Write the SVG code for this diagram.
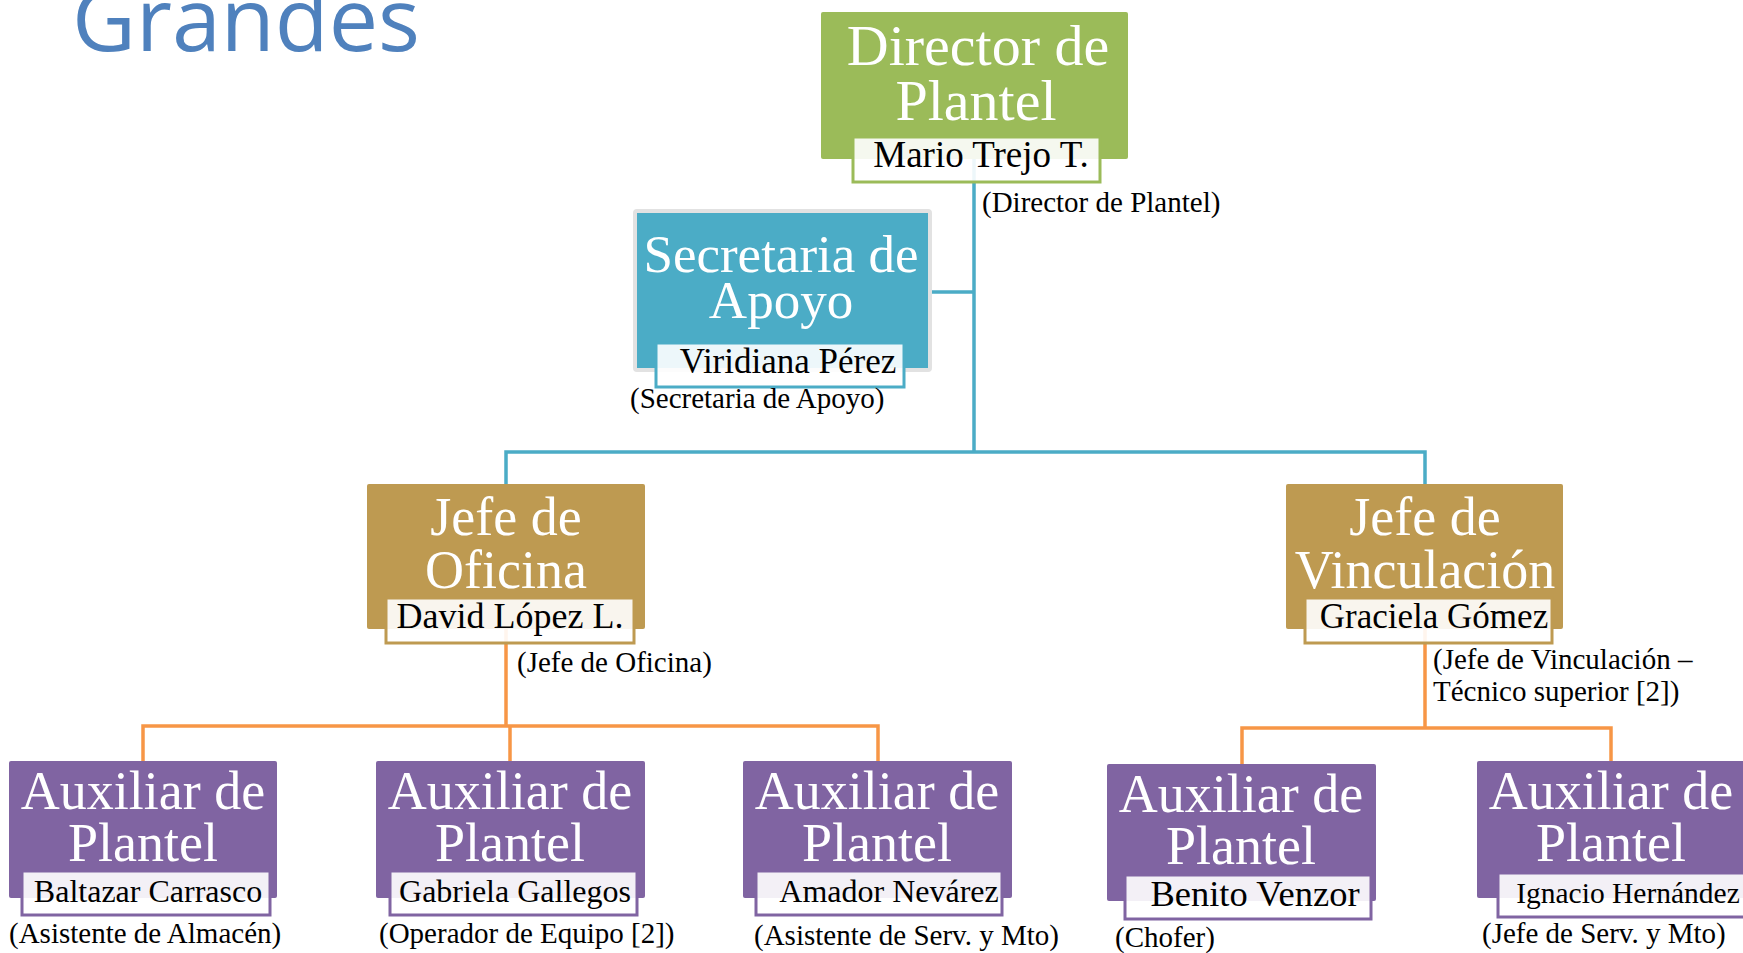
<svg xmlns="http://www.w3.org/2000/svg" width="1743" height="953" viewBox="0 0 1743 953">
<style>
.title{font-family:"Liberation Serif","DejaVu Serif",serif;fill:#ffffff;text-anchor:middle}
.name{font-family:"Liberation Serif","DejaVu Serif",serif;fill:#000000;text-anchor:middle}
.cap{font-family:"Liberation Serif","DejaVu Serif",serif;fill:#000000;font-size:29px}
.nb{fill:#ffffff;fill-opacity:0.9;stroke-width:3}
.blue{stroke:#4bacc6;stroke-width:3.5;fill:none}
.orange{stroke:#f79646;stroke-width:3.5;fill:none}
</style>
<rect width="1743" height="953" fill="#ffffff"/>
<text x="72" y="51" font-family="'Open Sans','Noto Sans',sans-serif" font-size="88" fill="#4f81bd">Grandes</text>
<g id="connectors">
<path class="blue" d="M974 159V452M932 292H974M506 484V452H1425V484"/>
<path class="orange" d="M506 629V726M143 761V726H878V761M510 726V761"/>
<path class="orange" d="M1425 629V728M1242 764V728H1611V761"/>
</g>
<g id="director">
<rect x="821" y="12" width="307" height="147" rx="2" fill="#9bbb59"/>
<text class="title" x="978" y="65" font-size="58">Director de</text>
<text class="title" x="976" y="120" font-size="58">Plantel</text>
<rect class="nb" x="853" y="137" width="247" height="45" stroke="#9bbb59"/>
<text class="name" x="981" y="167" font-size="37">Mario Trejo T.</text>
<text class="cap" x="982" y="212">(Director de Plantel)</text>
</g>
<g id="secretaria">
<rect x="635" y="211" width="295" height="159" rx="2" fill="#4bacc6" stroke="#e2e2e2" stroke-width="4"/>
<text class="title" x="781" y="272" font-size="53">Secretaria de</text>
<text class="title" x="781" y="318" font-size="53">Apoyo</text>
<rect class="nb" x="656" y="343" width="248" height="44" stroke="#4bacc6"/>
<text class="name" x="788" y="373" font-size="35">Viridiana Pérez</text>
<text class="cap" x="630" y="408" font-size="27.5">(Secretaria de Apoyo)</text>
</g>
<g id="jefe-oficina">
<rect x="367" y="484" width="278" height="145" rx="2" fill="#be9a51"/>
<text class="title" x="506" y="535" font-size="54">Jefe de</text>
<text class="title" x="506" y="588" font-size="54">Oficina</text>
<rect class="nb" x="386" y="598" width="248" height="45" stroke="#be9a51"/>
<text class="name" x="510" y="628" font-size="36">David López L.</text>
<text class="cap" x="517" y="672">(Jefe de Oficina)</text>
</g>
<g id="jefe-vinculacion">
<rect x="1286" y="484" width="277" height="145" rx="2" fill="#be9a51"/>
<text class="title" x="1425" y="535" font-size="54">Jefe de</text>
<text class="title" x="1425" y="588" font-size="54">Vinculación</text>
<rect class="nb" x="1305" y="598" width="247" height="45" stroke="#be9a51"/>
<text class="name" x="1434" y="628" font-size="35">Graciela Gómez</text>
<text class="cap" x="1433" y="669" font-size="27.5">(Jefe de Vinculación –</text>
<text class="cap" x="1433" y="701" font-size="27.5">Técnico superior [2])</text>
</g>
<g id="aux-1">
<rect x="9" y="761" width="268" height="137" rx="2" fill="#8064a2"/>
<text class="title" x="143" y="809" font-size="54">Auxiliar de</text>
<text class="title" x="143" y="861" font-size="54">Plantel</text>
<rect class="nb" x="22" y="871" width="248" height="44" stroke="#8064a2"/>
<text class="name" x="148" y="902" font-size="32">Baltazar Carrasco</text>
<text class="cap" x="9" y="943">(Asistente de Almacén)</text>
</g>
<g id="aux-2">
<rect x="376" y="761" width="269" height="137" rx="2" fill="#8064a2"/>
<text class="title" x="510" y="809" font-size="54">Auxiliar de</text>
<text class="title" x="510" y="861" font-size="54">Plantel</text>
<rect class="nb" x="390" y="871" width="247" height="44" stroke="#8064a2"/>
<text class="name" x="515" y="902" font-size="32">Gabriela Gallegos</text>
<text class="cap" x="379" y="943">(Operador de Equipo [2])</text>
</g>
<g id="aux-3">
<rect x="743" y="761" width="269" height="137" rx="2" fill="#8064a2"/>
<text class="title" x="877" y="809" font-size="54">Auxiliar de</text>
<text class="title" x="877" y="861" font-size="54">Plantel</text>
<rect class="nb" x="756" y="871" width="246" height="44" stroke="#8064a2"/>
<text class="name" x="889" y="902" font-size="32">Amador Nevárez</text>
<text class="cap" x="754" y="945">(Asistente de Serv. y Mto)</text>
</g>
<g id="aux-4">
<rect x="1107" y="764" width="269" height="137" rx="2" fill="#8064a2"/>
<text class="title" x="1241" y="812" font-size="54">Auxiliar de</text>
<text class="title" x="1241" y="864" font-size="54">Plantel</text>
<rect class="nb" x="1125" y="875" width="246" height="44" stroke="#8064a2"/>
<text class="name" x="1255" y="906" font-size="36.5">Benito Venzor</text>
<text class="cap" x="1115" y="947">(Chofer)</text>
</g>
<g id="aux-5">
<rect x="1477" y="761" width="269" height="137" rx="2" fill="#8064a2"/>
<text class="title" x="1611" y="809" font-size="54">Auxiliar de</text>
<text class="title" x="1611" y="861" font-size="54">Plantel</text>
<rect class="nb" x="1498" y="873" width="250" height="44" stroke="#8064a2"/>
<text class="name" x="1628" y="903" font-size="29.5">Ignacio Hernández</text>
<text class="cap" x="1482" y="943">(Jefe de Serv. y Mto)</text>
</g>
</svg>
